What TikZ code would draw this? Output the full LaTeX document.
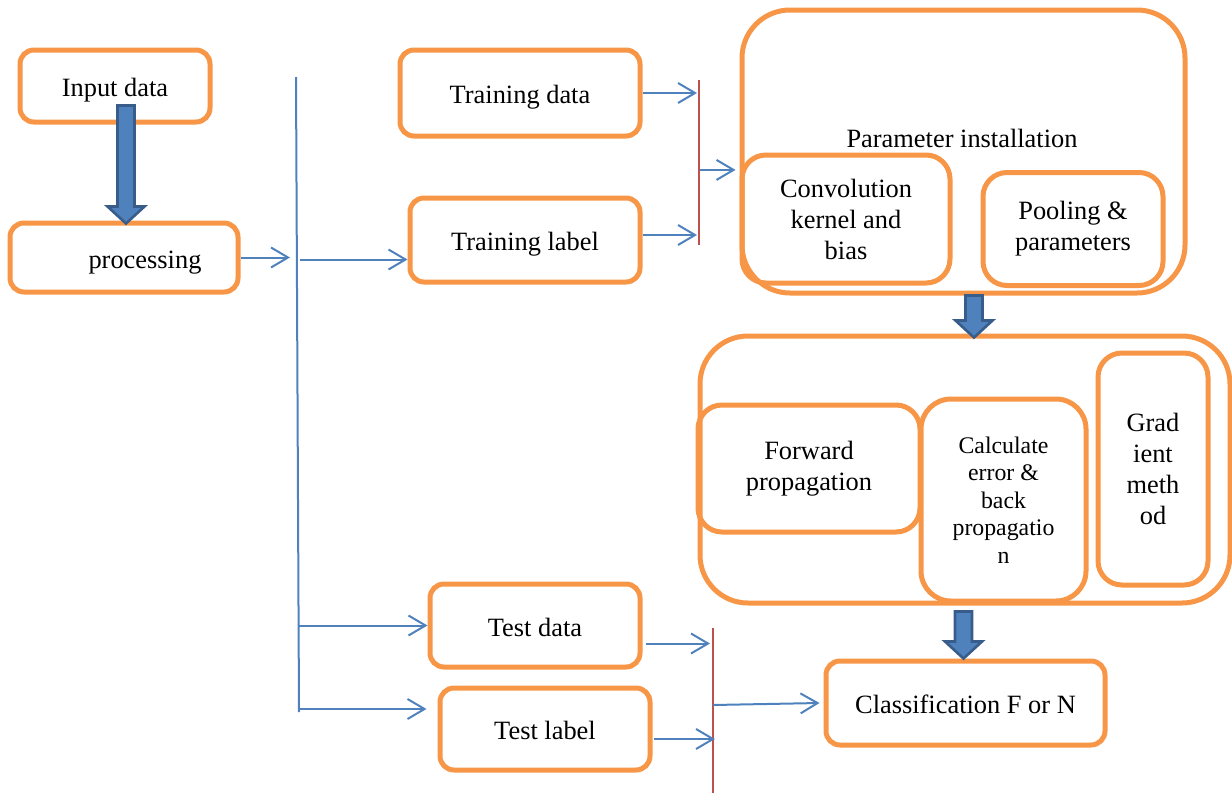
\documentclass[tikz,border=0pt]{standalone}
\usepackage{fontspec}
\setmainfont{Liberation Serif}
\usepackage{tikz}
\usetikzlibrary{arrows.meta,calc}
\definecolor{boxorange}{HTML}{F79646}
\definecolor{lineblue}{HTML}{4F81BD}
\definecolor{darkblue}{HTML}{385D8A}
\definecolor{barred}{HTML}{C0504D}
\newcommand{\blockdown}[2]{%
  \draw[barrow] ($(#1)+(-8.5,0)$) -- ($(#2)+(-8.5,-17)$) -- ($(#2)+(-18.5,-17)$) -- (#2)
    -- ($(#2)+(18.5,-17)$) -- ($(#2)+(8.5,-17)$) -- ($(#1)+(8.5,0)$) -- cycle;}

\begin{document}
\begin{tikzpicture}[x=0.5pt, y=-0.5pt,
    box/.style={rectangle, rounded corners=7pt, draw=boxorange, line width=2.5pt, inner sep=0pt,
      align=center, font=\fontsize{13.2}{15.5}\selectfont},
    oneline/.style={box, text height=10.6pt, text depth=0pt},
    softbox/.style={box, rounded corners=12pt},
    bigbox/.style={box, rounded corners=24pt},
    lbl/.style={inner sep=0pt, font=\fontsize{13.2}{15.5}\selectfont},
    trunk/.style={draw=lineblue, line width=1pt},
    flow/.style={trunk, -{Straight Barb[length=8.5pt,width=10pt,line width=1pt]}},
    bar/.style={draw=barred, line width=0.8pt},
    barrow/.style={fill=lineblue, draw=darkblue, line width=1.3pt, line join=miter}]
    \useasboundingbox (0,0) rectangle (1232,793);

    \node[oneline, minimum width=95pt, minimum height=36pt] (inp) at (115,86) {Input data};
    \node[oneline, minimum width=114pt, minimum height=34.5pt] (proc) at (124,257.5) {\hspace*{21pt}processing};
    \node[oneline, minimum width=120pt, minimum height=43pt] (trd) at (520,93) {Training data};
    \node[oneline, minimum width=115pt, minimum height=42pt] (trl) at (525,240) {Training label};
    \node[oneline, minimum width=105pt, minimum height=41.5pt] (tsd) at (535,625.5) {Test data};
    \node[oneline, minimum width=105pt, minimum height=41pt] (tsl) at (545,729) {Test label};

    \node[bigbox, minimum width=221.5pt, minimum height=141.5pt] (param) at (963.5,151.5) {};
    \node[lbl] (plbl) at (962,138) {Parameter installation};
    \node[softbox, minimum width=104pt, minimum height=64pt] (conv) at (846,219) {Convolution\\kernel and\\bias};
    \node[softbox, minimum width=90pt, minimum height=56.5pt] (pool) at (1073,229) {Pooling \&\\parameters};

    \node[bigbox, minimum width=265pt, minimum height=133.5pt] (learn) at (965,469.5) {};
    \node[softbox, minimum width=111pt, minimum height=63.5pt] (fwd) at (809,468.5) {Forward\\propagation};
    \node[softbox, minimum width=82.5pt, minimum height=101pt, rounded corners=15pt,
      font=\fontsize{11.9}{13.75}\selectfont] (bwd) at (1003.5,500) {Calculate\\error \&\\back\\propagatio\\n};
    \node[softbox, minimum width=55pt, minimum height=116pt] (grad) at (1153,469) {Grad\\ient\\meth\\od};

    \node[oneline, minimum width=139.5pt, minimum height=42pt] (cls) at (965.5,703) {Classification F or N};

    \coordinate (vt) at (296,77);
    \coordinate (vb) at (299,712);
    \draw[trunk] (vt) -- (vb);
    \draw[flow, shorten >=3pt] (proc.east) -- (proc.east -| vt);
    \draw[flow] ($(proc.east -| vt)+(4,2)$) -- ($(proc.east -| trl.west)+(0,2)$);
    \draw[flow] (tsd.west -| vb) -- (tsd.west);
    \draw[flow] ($(tsl.west -| vb)+(0,-20)$) -- ($(tsl.west)+(-11,-20)$);

    \coordinate (r1t) at (699,80);
    \coordinate (r1b) at (699,245);
    \coordinate (r1m) at ($(r1t)!0.545!(r1b)$);
    \draw[bar] (r1t) -- (r1b);
    \draw[flow] (trd.east) -- ($(trd.east -| r1t)+(-2,0)$);
    \draw[flow] ($(trl.east)+(0,-5)$) -- ($(trl.east -| r1t)+(-2,-5)$);
    \draw[flow] ($(r1m)+(1,0)$) -- ($(r1m -| param.west)+(-4,0)$);

    \coordinate (r2t) at (713,628);
    \coordinate (r2b) at (713,793);
    \coordinate (r2m) at (713,705);
    \draw[bar] (r2t) -- (r2b);
    \draw[flow] ($(tsd.east)+(3,18)$) -- ($(tsd.east -| r2t)+(-3,18)$);
    \draw[flow] ($(tsl.east)+(1,10)$) -- ($(tsl.east -| r2t)+(2,10)$);
    \draw[flow] (r2m) -- ($(cls.west)+(-4,0)$);

    \coordinate (a1t) at ($(proc.north)+(2,3)$);
    \coordinate (a1s) at ($(a1t |- inp.south)+(0,-19)$);
    \blockdown{a1s}{a1t}
    \coordinate (a2s) at ($(param.south)+(10.5,0)$);
    \coordinate (a2t) at ($(a2s |- learn.north)+(0,4)$);
    \blockdown{a2s}{a2t}
    \coordinate (a3t) at ($(cls.north)+(-2,0)$);
    \coordinate (a3s) at ($(a3t |- learn.south)+(0,6)$);
    \blockdown{a3s}{a3t}
\end{tikzpicture}
\end{document}
